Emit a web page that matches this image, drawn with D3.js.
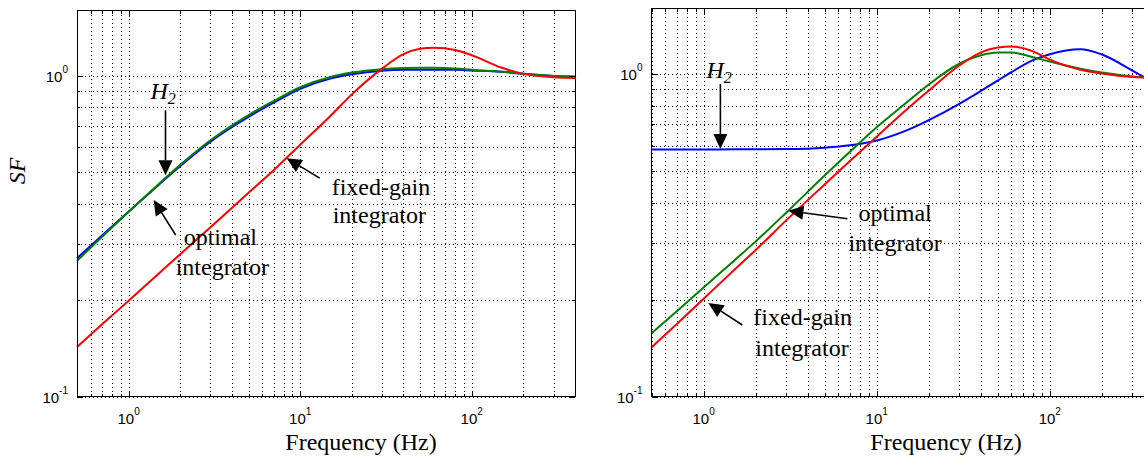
<!DOCTYPE html>
<html>
<head>
<meta charset="utf-8">
<title>SF vs frequency</title>
<style>
  body { margin: 0; background: #fff; }
  .tick-label { font: 15px "Liberation Sans", Arial, sans-serif; fill: #000; }
  .serif { font-family: "Liberation Serif", "Times New Roman", Tinos, "Nimbus Roman", "DejaVu Serif", serif; font-size: 24px; fill: #000; }
  .grid line { stroke: #000; stroke-width: 1; stroke-dasharray: 1,3; shape-rendering: crispEdges; }
  .frame { fill: none; stroke: #000; stroke-width: 1; shape-rendering: crispEdges; }
  .tickmark { stroke: #000; stroke-width: 1; shape-rendering: crispEdges; }
</style>
<script src="https://d3js.org/d3.v7.min.js"></script>
</head>
<body>
<div id="chart"></div>
<script>
var freqs = [0.5, 0.7, 1, 1.5, 2, 3, 5, 7, 10, 15, 20, 30, 40, 50, 60, 80, 100, 150, 200, 300, 400];

// left panel
var leftH2      = [0.27, 0.318, 0.377, 0.458, 0.524, 0.624, 0.745, 0.825, 0.912, 0.982, 1.012, 1.038, 1.045, 1.045, 1.045, 1.045, 1.04, 1.03, 1.015, 1.0, 0.995];
var leftOptimal = [0.265, 0.315, 0.377, 0.46, 0.528, 0.63, 0.755, 0.835, 0.922, 0.993, 1.025, 1.05, 1.058, 1.06, 1.06, 1.055, 1.045, 1.03, 1.015, 1.0, 0.995];
var leftFixed   = [0.1426, 0.168, 0.199, 0.242, 0.278, 0.337, 0.432, 0.508, 0.61, 0.75, 0.876, 1.054, 1.17, 1.215, 1.225, 1.205, 1.16, 1.06, 1.015, 0.99, 0.985];

// right panel
var rightH2      = [0.584, 0.584, 0.584, 0.585, 0.585, 0.586, 0.592, 0.602, 0.623, 0.671, 0.721, 0.81, 0.888, 0.956, 1.015, 1.106, 1.154, 1.196, 1.152, 1.027, 0.94];
var rightOptimal = [0.157, 0.184, 0.218, 0.264, 0.303, 0.372, 0.485, 0.575, 0.685, 0.82, 0.93, 1.078, 1.145, 1.168, 1.168, 1.13, 1.095, 1.04, 1.012, 0.985, 0.975];
var rightFixed   = [0.142, 0.168, 0.201, 0.247, 0.285, 0.352, 0.455, 0.538, 0.64, 0.78, 0.89, 1.065, 1.17, 1.21, 1.22, 1.178, 1.11, 1.033, 1.005, 0.98, 0.975];

var xDomain = [0.5, 400];
var yDomain = [0.1, 1.6];
var xMajor = [1, 10, 100];
var yMajor = [0.1, 1];

var colors = { h2: "#0000ff", optimal: "#008000", fixed: "#ff0000" };

var svg = d3.select("#chart").append("svg")
  .attr("width", 1144)
  .attr("height", 460);

var panels = [
  {
    left: 77, right: 575, top: 10.5, bottom: 396.5,
    series: [["h2", leftH2], ["optimal", leftOptimal], ["fixed", leftFixed]],
    xLabelX: 361, yLabel: true,
    notes: [
      { tip: [1.64, 0.49], tail: [0, -65], lines: [["H", -15, -76]], h2: true },
      { tip: [1.40, 0.41], tail: [22, 35], lines: [["optimal", 30, 45], ["integrator", 22, 75]] },
      { tip: [8.34, 0.554], tail: [33, 20], lines: [["fixed-gain", 45, 37], ["integrator", 46, 65]] }
    ]
  },
  {
    left: 651.5, right: 1154, top: 8.5, bottom: 396.5,
    series: [["h2", rightH2], ["optimal", rightOptimal], ["fixed", rightFixed]],
    xLabelX: 946, yLabel: false,
    notes: [
      { tip: [1.25, 0.586], tail: [0, -65], lines: [["H", -14, -71]], h2: true },
      { tip: [3.09, 0.377], tail: [59, 8], lines: [["optimal", 70, 10], ["integrator", 60, 40]] },
      { tip: [1.065, 0.195], tail: [34, 22], lines: [["fixed-gain", 45, 22], ["integrator", 47, 53]] }
    ]
  }
];

panels.forEach(drawPanel);

function isMajor(v) {
  var l = Math.log10(v);
  return Math.abs(l - Math.round(l)) < 1e-9;
}

function drawPanel(p) {
  var x = d3.scaleLog().domain(xDomain).range([p.left, p.right]);
  var y = d3.scaleLog().domain(yDomain).range([p.bottom, p.top]);
  var g = svg.append("g");

  var xt = x.ticks(), yt = y.ticks();

  // dotted grid
  var grid = g.append("g").attr("class", "grid");
  grid.selectAll(".gx").data(xt).enter().append("line")
    .attr("x1", function(d) { return Math.round(x(d)) + 0.5; })
    .attr("x2", function(d) { return Math.round(x(d)) + 0.5; })
    .attr("y1", p.top).attr("y2", p.bottom);
  grid.selectAll(".gy").data(yt).enter().append("line")
    .attr("y1", function(d) { return Math.round(y(d)) + 0.5; })
    .attr("y2", function(d) { return Math.round(y(d)) + 0.5; })
    .attr("x1", p.left).attr("x2", p.right);

  // curves
  var line = d3.line()
    .x(function(d) { return x(d[0]); })
    .y(function(d) { return y(d[1]); })
    .curve(d3.curveMonotoneX);
  p.series.forEach(function(s) {
    g.append("path")
      .datum(d3.zip(freqs, s[1]))
      .attr("fill", "none")
      .attr("stroke", colors[s[0]])
      .attr("stroke-width", 2)
      .attr("d", line);
  });

  // frame
  g.append("rect").attr("class", "frame")
    .attr("x", p.left).attr("y", p.top)
    .attr("width", p.right - p.left).attr("height", p.bottom - p.top);

  // inward tick marks on all sides
  xt.forEach(function(v) {
    var len = isMajor(v) ? 6 : 3, px = Math.round(x(v)) + 0.5;
    g.append("line").attr("class", "tickmark").attr("x1", px).attr("x2", px).attr("y1", p.bottom).attr("y2", p.bottom - len);
    g.append("line").attr("class", "tickmark").attr("x1", px).attr("x2", px).attr("y1", p.top).attr("y2", p.top + len);
  });
  yt.forEach(function(v) {
    var len = isMajor(v) ? 6 : 3, py = Math.round(y(v)) + 0.5;
    g.append("line").attr("class", "tickmark").attr("y1", py).attr("y2", py).attr("x1", p.left).attr("x2", p.left + len);
    g.append("line").attr("class", "tickmark").attr("y1", py).attr("y2", py).attr("x1", p.right).attr("x2", p.right - len);
  });

  // tick labels 10^n
  xMajor.forEach(function(v) {
    var t = g.append("text").attr("class", "tick-label")
      .attr("x", x(v)).attr("y", p.bottom + 27).attr("text-anchor", "middle");
    t.append("tspan").text("10");
    t.append("tspan").attr("dy", -9).attr("font-size", 10).text(Math.round(Math.log10(v)));
  });
  yMajor.forEach(function(v) {
    var t = g.append("text").attr("class", "tick-label")
      .attr("x", p.left - 9).attr("y", y(v) + 6).attr("text-anchor", "end");
    t.append("tspan").text("10");
    t.append("tspan").attr("dy", -9).attr("font-size", 10).text(Math.round(Math.log10(v)));
  });

  // axis labels
  g.append("text").attr("class", "serif")
    .attr("x", p.xLabelX).attr("y", 450).attr("text-anchor", "middle")
    .text("Frequency (Hz)");
  if (p.yLabel) {
    g.append("text").attr("class", "serif")
      .attr("font-style", "italic")
      .attr("transform", "translate(25,171) rotate(-90)")
      .attr("text-anchor", "middle")
      .text("SF");
  }

  // annotations
  p.notes.forEach(function(n) {
    var tx = x(n.tip[0]), ty = y(n.tip[1]);
    arrow(g, tx + n.tail[0], ty + n.tail[1], tx, ty);
    n.lines.forEach(function(l) {
      var t = g.append("text").attr("class", "serif")
        .attr("x", tx + l[1]).attr("y", ty + l[2]);
      if (n.h2) {
        t.attr("font-style", "italic");
        t.append("tspan").text(l[0]);
        t.append("tspan").attr("dy", 5).attr("font-size", 16).text("2");
      } else {
        t.text(l[0]);
      }
    });
  });
}

function arrow(g, x1, y1, x2, y2) {
  var a = Math.atan2(y2 - y1, x2 - x1), hl = 15, hw = 7;
  var bx = x2 - hl * Math.cos(a), by = y2 - hl * Math.sin(a);
  g.append("line")
    .attr("x1", x1).attr("y1", y1).attr("x2", bx).attr("y2", by)
    .attr("stroke", "#000").attr("stroke-width", 1.6);
  var pts = [
    [x2, y2],
    [bx + hw * Math.sin(a), by - hw * Math.cos(a)],
    [bx - hw * Math.sin(a), by + hw * Math.cos(a)]
  ];
  g.append("polygon").attr("points", pts.map(function(q) { return q.join(","); }).join(" "))
    .attr("fill", "#000");
}
</script>
</body>
</html>
